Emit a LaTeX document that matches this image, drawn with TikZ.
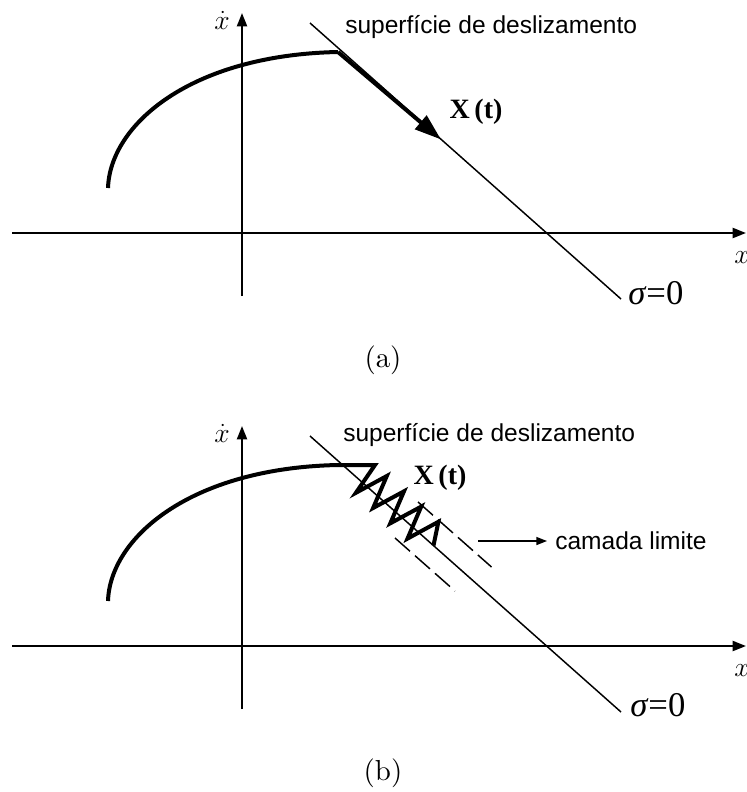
\documentclass[tikz,border=0pt]{standalone}
\usepackage{fontspec}
\newfontfamily\arial{Liberation Sans}
\newfontfamily\tms{Liberation Serif}
\usetikzlibrary{arrows.meta}
\begin{document}
\begin{tikzpicture}[x=0.75pt,y=-0.75pt,
  axis/.style={line width=1.5pt,-{Triangle[length=10pt,width=7.5pt]}},
  slide/.style={line width=1.1pt},
  traj/.style={line width=3pt},
  bnd/.style={line width=1.1pt,dash pattern=on 15pt off 5pt},
  lbl/.style={font=\arial\fontsize{18.4}{22}\selectfont,inner sep=0pt},
  xt/.style={font=\tms\bfseries\fontsize{21}{25}\selectfont,inner sep=0pt},
  sig/.style={font=\tms\fontsize{26}{30}\selectfont,inner sep=0pt},
  axl/.style={font=\fontsize{20}{24}\selectfont,inner sep=0pt},
  captxt/.style={font=\fontsize{10}{12}\selectfont,inner sep=0pt,scale=2.17}]
\useasboundingbox (0,0) rectangle (746,792);
% ---------- panel (a)
\coordinate (aYb) at (242,296);
\coordinate (aYt) at (242,13);
\coordinate (aXl) at (12,233);
\coordinate (aXr) at (746,233);
\draw[axis] (aYb) -- (aYt);
\draw[axis] (aXl) -- (aXr);
\node[axl] (aydot) at (222,20) {$\dot{x}$};
\node[axl] (axlab) at (742,258) {$x$};
\coordinate (aS1) at (310,23);
\coordinate (aS2) at (621,299);
\draw[slide] (aS1) -- (aS2);
\coordinate (aC0) at (108,188);
\coordinate (aC1) at (338,52);
\coordinate (aTip) at (441,139.5);
\draw[traj] (aC0) .. controls (110,125) and (190,55) .. (aC1);
\draw[traj,-{Triangle[length=20pt,width=13pt]}] (aC1) -- (aTip);
\node[xt] (aXt) at (476,112) {X\,(t)};
\node[lbl,anchor=west] (asup) at (345,27) {superfície de deslizamento};
\node[sig,anchor=west] (asig) at (628,293) {\textit{σ}=0};
\node[captxt] (acap) at (383,360) {(a)};
% ---------- panel (b)
\coordinate (bYb) at (242,709);
\coordinate (bYt) at (242,426);
\coordinate (bXl) at (12,646);
\coordinate (bXr) at (746,646);
\draw[axis] (bYb) -- (bYt);
\draw[axis] (bXl) -- (bXr);
\node[axl] (bydot) at (222,433) {$\dot{x}$};
\node[axl] (bxlab) at (742,671) {$x$};
\coordinate (bS1) at (310,436);
\coordinate (bS2) at (621,712);
\draw[slide] (bS1) -- (bS2);
\coordinate (bC0) at (108,601);
\coordinate (bC1) at (338,465);
\coordinate (bZ0) at (375,465);
\coordinate (bZe) at (433.5,545.5);
\draw[traj] (bC0) .. controls (110,538) and (190,468) .. (bC1) -- (bZ0)
  -- (355.9,492.8) -- (386.8,476.0) -- (373.1,508.0) -- (404.0,491.3)
  -- (390.3,523.3) -- (421.2,506.6) -- (407.5,538.6) -- (438.4,521.8) -- (bZe);
\coordinate (bU1) at (418,502);
\coordinate (bU2) at (491.5,567);
\coordinate (bL1) at (395,538);
\coordinate (bL2) at (455,591);
\draw[bnd] (bU1) -- (bU2);
\draw[bnd] (bL1) -- (bL2);
\node[xt] (bXt) at (440,478) {X\,(t)};
\node[lbl,anchor=west] (bsup) at (343,435) {superfície de deslizamento};
\node[lbl,anchor=west] (bcam) at (555,541) {camada limite};
\coordinate (bA0) at (478,541);
\coordinate (bA1) at (547,541);
\draw[line width=1.1pt,-{Triangle[length=8pt,width=6pt]}] (bA0) -- (bA1);
\node[sig,anchor=west] (bsig) at (630,705) {\textit{σ}=0};
\node[captxt] (bcap) at (383,773) {(b)};
\end{tikzpicture}
\end{document}
